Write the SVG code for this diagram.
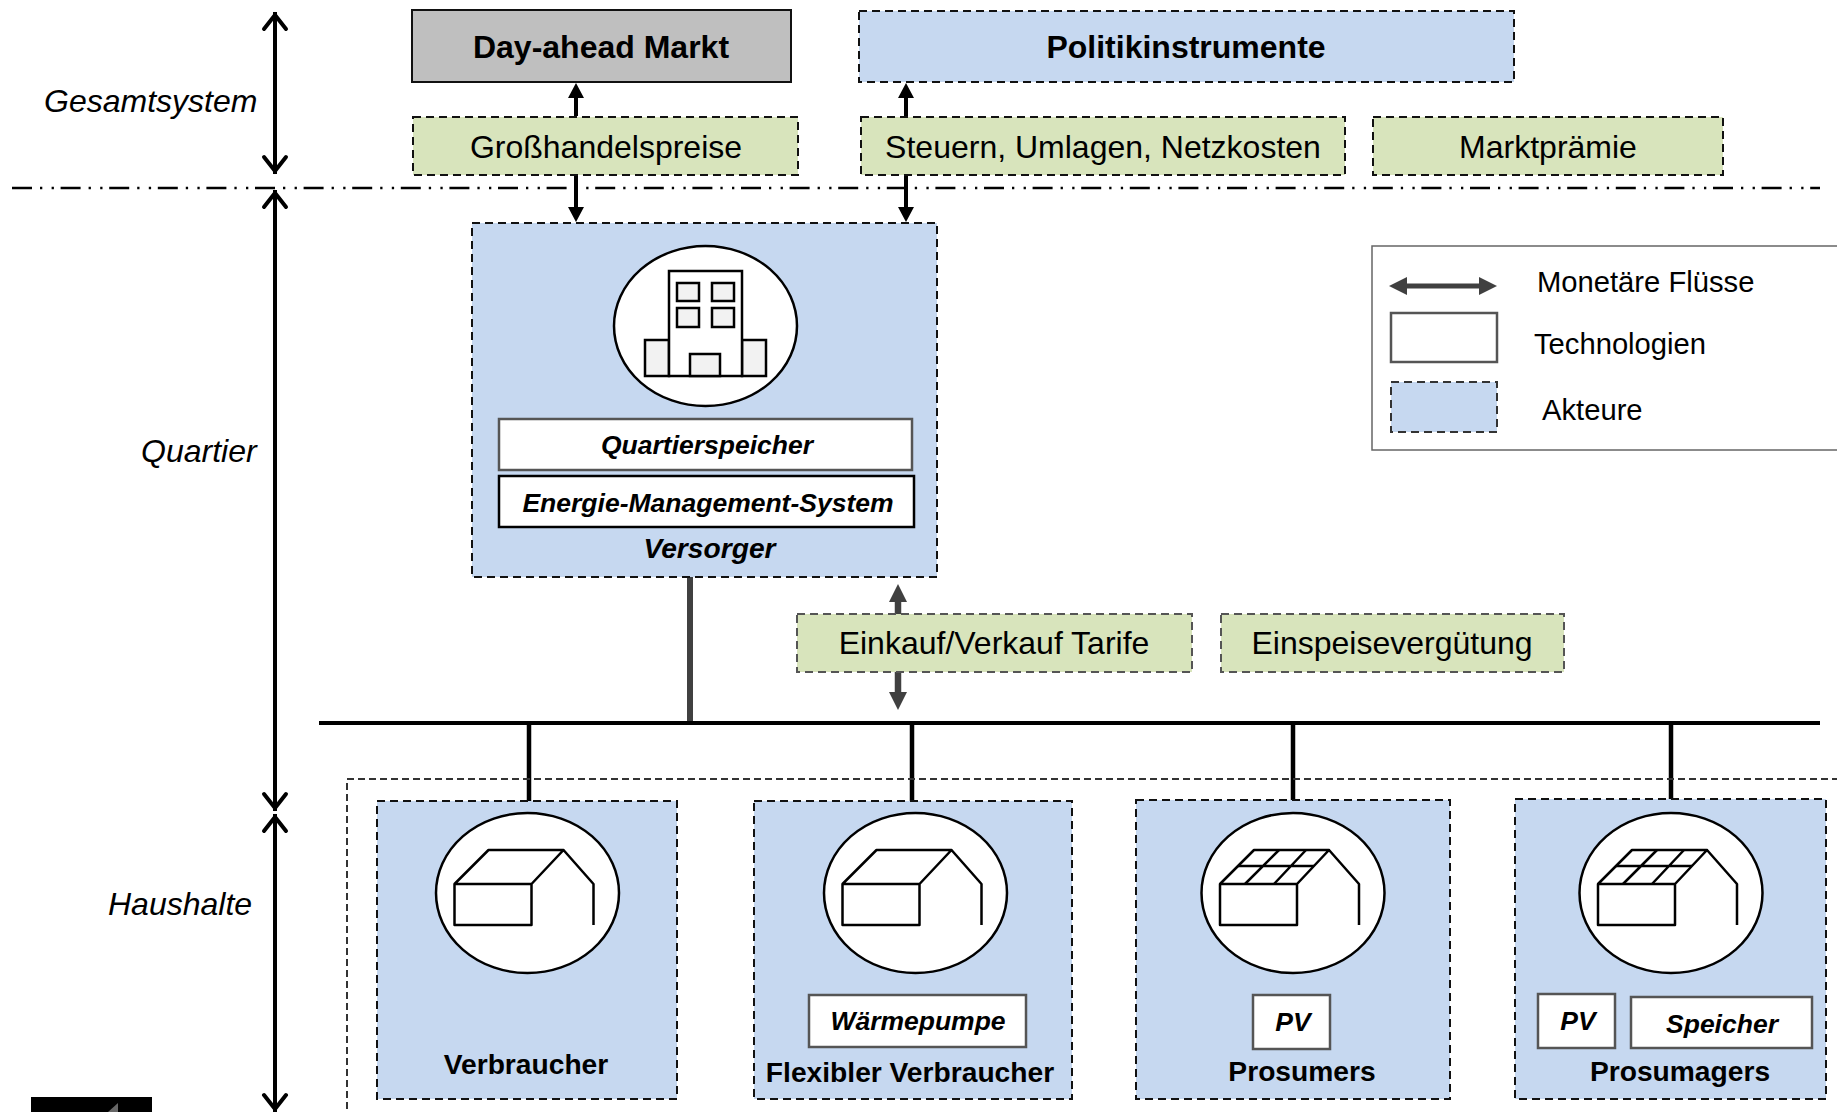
<svg xmlns="http://www.w3.org/2000/svg" width="1837" height="1112" viewBox="0 0 1837 1112">
<defs>
<style>
text{font-family:"Liberation Sans",Arial,sans-serif;fill:#000}
.m{text-anchor:middle}
.b{font-weight:bold}
.i{font-style:italic}
.s32{font-size:32px}.s29{font-size:29.200px}.s28{font-size:28.200px}.s26{font-size:26.500px}
.actor{fill:#c6d8f0;stroke:#111;stroke-width:2;stroke-dasharray:8 5}
.price{fill:#d8e4bc;stroke:#111;stroke-width:2;stroke-dasharray:8 5}
.priceg{fill:#d8e4bc;stroke:#555;stroke-width:2;stroke-dasharray:8 5}
.tech{fill:#fff;stroke:#555;stroke-width:2.500}
.icon{fill:#fff;stroke:#000;stroke-width:2.500}
.win{fill:#f2f2f2;stroke:#000;stroke-width:2.500}
.line{fill:none;stroke:#000;stroke-width:2.500;stroke-linejoin:round}
.scale{stroke:#000;stroke-width:4;fill:none;marker-start:url(#open);marker-end:url(#open)}
.flow{stroke:#000;stroke-width:4;fill:none;marker-end:url(#solid)}
.flowg{stroke:#404040;stroke-width:6.500;fill:none;marker-end:url(#solidg)}
.drop{stroke:#000;stroke-width:4.500;fill:none}
</style>
<marker id="open" markerUnits="userSpaceOnUse" markerWidth="24" markerHeight="28" refX="20" refY="14" orient="auto-start-reverse"><path d="M3 3L17 14L3 25" fill="none" stroke="#000" stroke-width="4" stroke-linecap="round"/></marker>
<marker id="solid" markerUnits="userSpaceOnUse" markerWidth="17" markerHeight="17" refX="1" refY="8" orient="auto"><path d="M0 0L15 8L0 16Z" fill="#000"/></marker>
<marker id="solidg" markerUnits="userSpaceOnUse" markerWidth="20" markerHeight="20" refX="1" refY="9" orient="auto"><path d="M0 0L18 9L0 18Z" fill="#404040"/></marker>
<marker id="legendh" markerUnits="userSpaceOnUse" markerWidth="20" markerHeight="20" refX="1" refY="9" orient="auto-start-reverse"><path d="M0 0L18 9L0 18Z" fill="#404040"/></marker>
<g id="house">
<ellipse class="icon" cx="0" cy="0" rx="91.500" ry="80"/>
<path class="line" d="M-73 -9H4V32H-73ZM-73 -9L-39 -43H36L4 -9M36 -43L66 -9V32"/>
</g>
<path id="panels" class="line" d="M-55 -27H21M-48 -9L-14 -43M-19 -9L13 -43"/>
</defs>
<rect width="1837" height="1112" fill="#fff"/>
<g id="connectors">
<path d="M12 188H1820" stroke="#000" stroke-width="2.500" stroke-dasharray="20 8 2.300 9.300 2.300 6.700" fill="none"/>
<path class="scale" d="M275 12V174"/>
<path class="scale" d="M275 190V811"/>
<path class="scale" d="M275 814V1112"/>
<path class="flow" d="M576 116V97"/>
<path class="flow" d="M576 176V208"/>
<path class="flow" d="M906 116V97"/>
<path class="flow" d="M906 176V208"/>
<path class="flowg" d="M898 614V601"/>
<path class="flowg" d="M898 672V693"/>
<path d="M690 577V723" stroke="#404040" stroke-width="6" fill="none"/>
<path d="M319 723H1820" stroke="#000" stroke-width="4" fill="none"/>
<path class="drop" d="M529 723V815M912 723V815M1293 723V815M1671 723V815"/>
</g>
<g id="haushalte-frame"><rect x="347" y="779" width="1510" height="360" fill="none" stroke="#333" stroke-width="2" stroke-dasharray="7 4"/></g>
<g id="scale-labels">
<text class="i s32" x="44" y="112">Gesamtsystem</text>
<text class="i s32" x="141" y="462">Quartier</text>
<text class="i s32" x="108" y="915">Haushalte</text>
</g>
<g id="day-ahead"><rect x="412" y="10" width="379" height="72" fill="#bfbfbf" stroke="#111" stroke-width="2"/><text class="m b s32" x="601" y="58">Day-ahead Markt</text></g>
<g id="politik"><rect class="actor" x="859" y="11" width="655" height="71"/><text class="m b s32" x="1186" y="58">Politikinstrumente</text></g>
<g id="grosshandel"><rect class="price" x="413" y="117" width="385" height="58"/><text class="m s32" x="606" y="158">Großhandelspreise</text></g>
<g id="steuern"><rect class="price" x="861" y="117" width="484" height="58"/><text class="m s32" x="1103" y="158">Steuern, Umlagen, Netzkosten</text></g>
<g id="marktpraemie"><rect class="price" x="1373" y="117" width="350" height="58"/><text class="m s32" x="1548" y="158">Marktprämie</text></g>
<g id="versorger">
<rect class="actor" x="472" y="223" width="465" height="354"/>
<ellipse class="icon" cx="705.500" cy="326" rx="91.500" ry="80"/>
<rect class="win" x="645" y="340" width="24" height="36"/><rect class="win" x="742" y="340" width="24" height="36"/>
<rect class="icon" x="669" y="271" width="73" height="105"/>
<rect class="win" x="677" y="283" width="22" height="18"/><rect class="win" x="712" y="283" width="22" height="18"/>
<rect class="win" x="677" y="308" width="22" height="19"/><rect class="win" x="712" y="308" width="22" height="19"/>
<rect class="win" x="690" y="354" width="30" height="22"/>
<rect class="tech" x="499" y="419" width="413" height="51"/><text class="m b i s26" x="707" y="454">Quartierspeicher</text>
<rect x="499" y="476" width="415" height="51" fill="#fff" stroke="#000" stroke-width="2.500"/><text class="m b i s26" x="708" y="512">Energie-Management-System</text>
<text class="m b i s28" x="709.500" y="558">Versorger</text>
</g>
<g id="einkauf"><rect class="priceg" x="797" y="614" width="395" height="58"/><text class="m s32" x="994" y="654">Einkauf/Verkauf Tarife</text></g>
<g id="einspeise"><rect class="priceg" x="1221" y="614" width="343" height="58"/><text class="m s32" x="1392" y="654">Einspeisevergütung</text></g>
<g id="legende">
<rect x="1372" y="246" width="480" height="204" fill="#fff" stroke="#666" stroke-width="1.500"/>
<path d="M1406 286H1480" stroke="#404040" stroke-width="5" marker-start="url(#legendh)" marker-end="url(#legendh)" fill="none"/>
<text class="s29" x="1537" y="292">Monetäre Flüsse</text>
<rect class="tech" x="1391" y="313" width="106" height="49"/>
<text class="s29" x="1534" y="353.500">Technologien</text>
<rect x="1391" y="382" width="106" height="50" fill="#c6d8f0" stroke="#333" stroke-width="2" stroke-dasharray="8 5"/>
<text class="s29" x="1542" y="420">Akteure</text>
</g>
<g id="verbraucher"><rect class="actor" x="377" y="801" width="300" height="298"/><use href="#house" x="527.500" y="893"/><text class="m b s28" x="526" y="1074">Verbraucher</text></g>
<g id="flexibler"><rect class="actor" x="754" y="801" width="318" height="298"/><use href="#house" x="915.500" y="893"/><rect class="tech" x="809" y="995" width="217" height="52"/><text class="m b i s26" x="918" y="1030">Wärmepumpe</text><text class="m b s28" x="910" y="1082">Flexibler Verbraucher</text></g>
<g id="prosumers"><rect class="actor" x="1136" y="800" width="314" height="299"/><use href="#house" x="1293" y="893"/><use href="#panels" x="1293" y="893"/><rect class="tech" x="1253" y="995" width="77" height="54"/><text class="m b i s26" x="1293" y="1031">PV</text><text class="m b s28" x="1302" y="1081">Prosumers</text></g>
<g id="prosumagers"><rect class="actor" x="1515" y="799" width="311" height="300"/><use href="#house" x="1671" y="893"/><use href="#panels" x="1671" y="893"/><rect class="tech" x="1538" y="994" width="77" height="54"/><text class="m b i s26" x="1578" y="1030">PV</text><rect class="tech" x="1631" y="997" width="181" height="51"/><text class="m b i s26" x="1722" y="1033">Speicher</text><text class="m b s28" x="1680" y="1081">Prosumagers</text></g>
<g id="eckmarke"><rect x="31" y="1097" width="121" height="15" fill="#000"/><path d="M108 1112L118 1103V1112Z" fill="#666"/></g>
</svg>
